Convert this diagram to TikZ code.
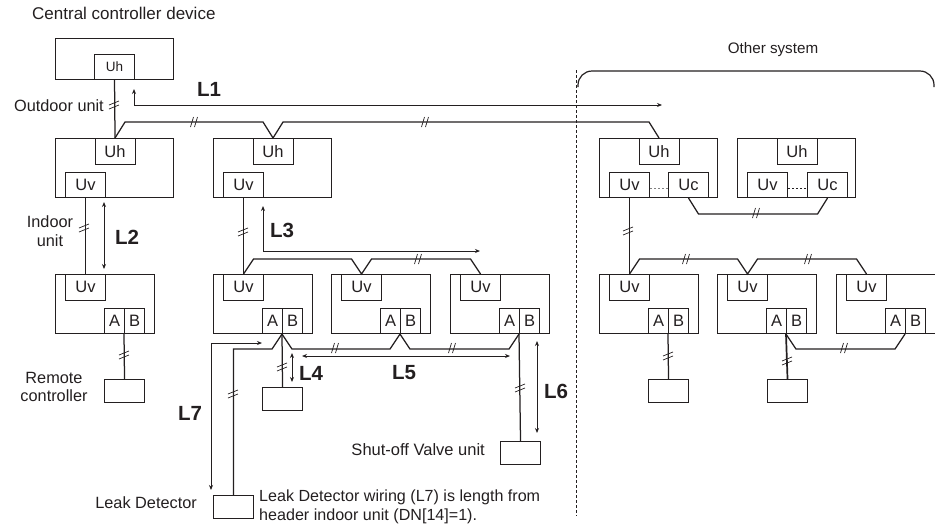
\documentclass[tikz,border=0pt]{standalone}
\usepackage{fontspec}
\setmainfont{Liberation Sans}
\usepackage{xcolor}
\usetikzlibrary{arrows.meta}
\definecolor{inkc}{HTML}{231F20}
\tikzset{
    mainbox/.style={draw=inkc,line width=1.05pt,inner sep=0pt,anchor=north west,minimum height=59pt},
    subbox/.style={draw=inkc,line width=1.05pt,inner sep=0pt,anchor=north west,minimum width=40pt,minimum height=25.5pt,text=inkc,font=\fontsize{16.5}{18}\selectfont},
    halfbox/.style={subbox,minimum width=20pt},
    devbox/.style={draw=inkc,line width=1.05pt,inner sep=0pt,anchor=north west,minimum width=40pt,minimum height=23pt},
    wire/.style={draw=inkc,line width=1.25pt,line join=miter},
    dimline/.style={draw=inkc,line width=0.95pt,{Stealth[length=5pt,width=4pt]}-{Stealth[length=5pt,width=4pt]}},
    note/.style={inner sep=0pt,text=inkc,font=\fontsize{16.3}{18.5}\selectfont,align=center},
    dimtext/.style={inner sep=0pt,text=inkc,font=\fontsize{20.5}{22}\selectfont\bfseries},
    brkh/.pic={\draw[inkc,line width=0.7pt] (-3.5,5) -- (-0.5,-5) (0.5,5) -- (3.5,-5);},
    brkv/.pic={\draw[inkc,line width=0.7pt] (-5,1) -- (5,-3) (-5,5) -- (5,1);}
}
\begin{document}
\begin{tikzpicture}[x=1pt,y=-1pt]
    \useasboundingbox (0,0) rectangle (935,528);

    % central controller
    \node[mainbox,minimum width=118pt,minimum height=41pt] (ctrl) at (55,38) {};
    \node[subbox,minimum height=25pt,font=\fontsize{13.5}{15}\selectfont] (ctrl-Uh) at (94,54) {Uh};

    % outdoor units
    \foreach \nm/\xx in {out1/55,out2/213,oth1/599,oth2/737}{
        \node[mainbox,minimum width=118pt] (\nm) at (\xx,138) {};
        \node[subbox] (\nm-Uh) at (\xx+39.5,138) {Uh};
        \node[subbox] (\nm-Uv) at (\xx+10,171.5) {Uv};
    }
    \node[subbox] (oth1-Uc) at (668,171.5) {Uc};
    \node[subbox] (oth2-Uc) at (807,171.5) {Uc};
    \draw[gray,line width=1pt,dash pattern=on 2pt off 2pt] ([yshift=-3.5pt]oth1-Uv.east) -- ([yshift=-3.5pt]oth1-Uc.west);
    \draw[inkc,line width=1pt,dash pattern=on 2pt off 2pt] ([yshift=-3.5pt]oth2-Uv.east) -- ([yshift=-3.5pt]oth2-Uc.west);

    % indoor units
    \foreach \nm/\xx in {ind1/55,ind2/213,ind3/331,ind4/450,oin1/599,oin2/717,oin3/836}{
        \node[mainbox,minimum width=99pt] (\nm) at (\xx,274) {};
        \node[subbox] (\nm-Uv) at (\xx+10,274) {Uv};
        \node[halfbox,minimum height=25pt] (\nm-A) at (\xx+49,308) {A};
        \node[halfbox,minimum height=25pt] (\nm-B) at (\xx+69,308) {B};
    }

    % small devices
    \node[devbox] (rem1) at (104,379) {};
    \node[devbox] (rem2) at (262,387) {};
    \node[devbox] (valve) at (500,441) {};
    \node[devbox] (leak) at (213,495) {};
    \node[devbox] (rem3) at (648,379) {};
    \node[devbox] (rem4) at (767,379) {};

    % wiring
    \draw[wire] (ctrl-Uh.south) -- (out1-Uh.north);
    \draw[wire] (out1-Uh.north) -- ++(10,-16) -- ([shift={(-10,-16)}]out2-Uh.north) -- (out2-Uh.north)
        -- ++(10,-16) -- ([shift={(-10,-16)}]oth1-Uh.north) -- (oth1-Uh.north);
    \draw[wire] (out1-Uv.south) -- (ind1-Uv.north);
    \draw[wire] (ind1-B.south west) -- (rem1.north);
    \draw[wire] (out2-Uv.south) -- (ind2-Uv.north);
    \draw[wire] (ind2-Uv.north) -- ++(10,-15) -- ([shift={(-10,-15)}]ind3-Uv.north) -- (ind3-Uv.north)
        -- ++(10,-15) -- ([shift={(-10,-15)}]ind4-Uv.north) -- (ind4-Uv.north);
    \draw[wire] (ind2-B.south west) -- (rem2.north);
    \draw[wire] (ind2-B.south west) -- ++(-10,15) -| (leak.north);
    \draw[wire] (ind2-B.south west) -- ++(10,15) -- ([shift={(-10,15)}]ind3-B.south west) -- (ind3-B.south west)
        -- ++(10,15) -- ([shift={(-10,15)}]ind4-B.south west) -- (ind4-B.south west);
    \draw[wire] (ind4-B.south west) -- (valve.north);
    \draw[wire] (oth1-Uc.south) -- ++(10,16) -- ([shift={(-10,16)}]oth2-Uc.south) -- (oth2-Uc.south);
    \draw[wire] (oth1-Uv.south) -- (oin1-Uv.north);
    \draw[wire] (oin1-Uv.north) -- ++(10,-15) -- ([shift={(-10,-15)}]oin2-Uv.north) -- (oin2-Uv.north)
        -- ++(10,-15) -- ([shift={(-10,-15)}]oin3-Uv.north) -- (oin3-Uv.north);
    \draw[wire] (oin1-B.south west) -- (rem3.north);
    \draw[wire,line width=1.7pt] (oin2-B.south west) -- (rem4.north);
    \draw[wire] (oin2-B.south west) -- ++(10,15) -- ([shift={(-10,15)}]oin3-B.south west) -- (oin3-B.south west);

    % break marks
    \foreach \xx/\yy in {114/104,84/227,243/231,124/354,282/366,233/393,520/387,628/230,668/355,787/360}{
        \pic at (\xx,\yy) {brkv};
    }
    \foreach \xx/\yy in {194/122,425/122,418/259,335/348,452/348,756/213,686/259,808/259,844/348}{
        \pic at (\xx,\yy) {brkh};
    }

    % length arrows
    \coordinate (L1a) at (134,89);
    \coordinate (L1b) at (662,105);
    \coordinate (L2a) at (104,202);
    \coordinate (L2b) at (104,269);
    \coordinate (L3a) at (263,206);
    \coordinate (L3b) at (480,251);
    \coordinate (L4a) at (292,353);
    \coordinate (L4b) at (292,382);
    \coordinate (L5a) at (302,356);
    \coordinate (L5b) at (510,356);
    \coordinate (L6a) at (537,341);
    \coordinate (L6b) at (537,433);
    \coordinate (L7a) at (211,490);
    \coordinate (L7b) at (262,343);
    \draw[dimline] (L1a) |- (L1b);
    \draw[dimline] (L2a) -- (L2b);
    \draw[dimline] (L3a) |- (L3b);
    \draw[dimline] (L4a) -- (L4b);
    \draw[dimline] (L5a) -- (L5b);
    \draw[dimline] (L6a) -- (L6b);
    \draw[dimline] (L7a) |- (L7b);
    \node[dimtext] (L1t) at (209,89) {L1};
    \node[dimtext] (L2t) at (127,237) {L2};
    \node[dimtext] (L3t) at (282,230) {L3};
    \node[dimtext] (L4t) at (311,373) {L4};
    \node[dimtext] (L5t) at (404,373) {L5};
    \node[dimtext] (L6t) at (556,391) {L6};
    \node[dimtext] (L7t) at (190,413) {L7};

    % other system
    \draw[densely dashed,inkc,line width=0.7pt] (576,70) -- (576,516);
    \coordinate (othL) at (578,87);
    \coordinate (othR) at (934,87);
    \draw[inkc,line width=1.2pt,rounded corners=14pt] (othL) -- (578,71) -- (934,71) -- (othR);

    % labels
    \node[note,anchor=west,font=\fontsize{17}{19}\selectfont] (ctrlLbl) at (32,13) {Central controller device};
    \node[note,anchor=east] (outLbl) at (104,106) {Outdoor unit};
    \node[note] (indLbl) at (50,231) {Indoor\\unit};
    \node[note] (remLbl) at (54,387) {Remote\\controller};
    \node[note,anchor=east] (leakLbl) at (197,503) {Leak Detector};
    \node[note,anchor=east,font=\fontsize{16.5}{19}\selectfont] (valveLbl) at (485,450) {Shut-off Valve unit};
    \node[note,font=\fontsize{15.2}{17}\selectfont] (othLbl) at (773,50) {Other system};
    \node[note,anchor=north west,align=left,font=\fontsize{16.1}{18.2}\selectfont] (leakNote) at (259,490) {Leak Detector wiring (L7) is length from\\header indoor unit (DN[14]=1).};
\end{tikzpicture}
\end{document}
